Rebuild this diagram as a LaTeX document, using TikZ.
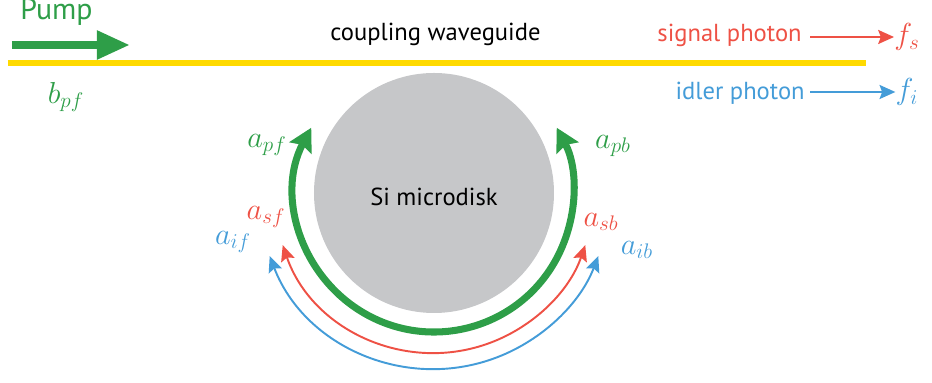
\documentclass[tikz,border=0pt]{standalone}
\usepackage{fontspec}
\setsansfont{PT Sans}
\usepackage{tikz}
\usetikzlibrary{arrows.meta,calc}
\definecolor{pgreen}{HTML}{2E9E48}\definecolor{sred}{HTML}{EE5145}
\definecolor{iblue}{HTML}{449CD8}\definecolor{wgyel}{HTML}{FFDA00}\definecolor{disk}{HTML}{C6C7C9}
\newcommand{\BigTip}{Stealth[length=13,width=14,inset=2]}
\newcommand{\ThinTip}{Stealth[length=9,width=8,inset=1.5]}
\tikzset{lbl/.style={font=\sffamily\fontsize{14}{16}\selectfont,inner sep=0},
  sym/.style={font=\fontsize{18}{20}\selectfont,inner sep=0}}
\begin{document}
\begin{tikzpicture}
\useasboundingbox(-8.68,-3.8)rectangle(9.96,3.86);
\fill[disk](0,0)circle(2.4);\node[lbl](si)at(0,-.08){Si microdisk};
% waveguide and pump
\coordinate(wgL)at(-8.52,2.6);\coordinate(wgR)at(8.64,2.6);\draw[wgyel,line width=3.4pt](wgL)--(wgR);
\node[lbl,text=black,anchor=base west](cw)at(-2.08,3.05){coupling waveguide};
\node[lbl,text=pgreen,anchor=base west,font=\sffamily\fontsize{17}{19}\selectfont](pump)at(-8.28,3.46){Pump};
\coordinate(pA)at(-8.44,2.96);\coordinate(pB)at(-6.08,2.96);
\draw[pgreen,line width=4.5pt,-{Triangle[length=.66cm,width=.54cm]}](pA)--(pB);
\node[sym,text=pgreen](bpf)at(-7.36,1.92){$b_{pf}$};
% output photons
\node[lbl,text=sred,anchor=base east](sig)at(7.36,3.03){signal photon};\node[sym,text=sred](fs)at(9.46,3.12){$f_s$};
\draw[sred,line width=1.1pt,-{\ThinTip}](sig.east|-fs)++(.16,0)--(fs.west);
\node[lbl,text=iblue,anchor=base east](idl)at(7.42,1.86){idler photon};\node[sym,text=iblue](fi)at(9.46,2.02){$f_i$};
\draw[iblue,line width=1.1pt,-{\ThinTip}](idl.east|-fi)++(.1,0)--(fi.west);
% modes in the disk
\draw[pgreen,line width=4pt,{\BigTip}-{\BigTip}](152:2.78)arc(152:388:2.78);
\draw[sred,line width=1.1pt,{\ThinTip}-{\ThinTip}](199:3.2)arc(199:341:3.2);
\draw[iblue,line width=1.1pt,{\ThinTip}-{\ThinTip}](201:3.52)arc(201:339:3.52);
\node[sym,text=pgreen](apf)at(-3.34,.96){$a_{pf}$};\node[sym,text=pgreen](apb)at(3.58,.94){$a_{pb}$};
\node[sym,text=sred](asf)at(-3.36,-.48){$a_{sf}$};\node[sym,text=sred](asb)at(3.34,-.58){$a_{sb}$};
\node[sym,text=iblue](aif)at(-4.02,-.98){$a_{if}$};\node[sym,text=iblue](aib)at(4.06,-1.14){$a_{ib}$};
\end{tikzpicture}
\end{document}
